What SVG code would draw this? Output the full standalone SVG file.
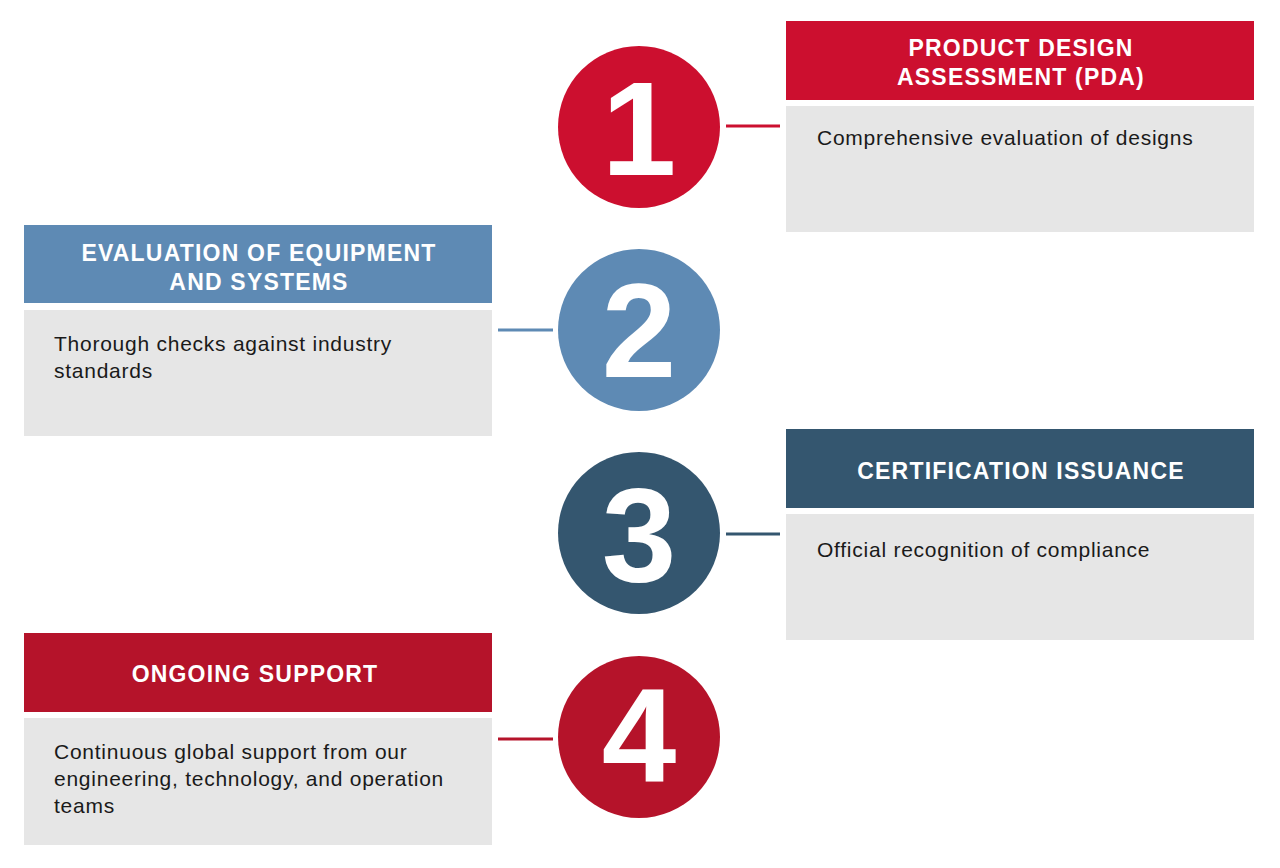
<svg xmlns="http://www.w3.org/2000/svg" width="1280" height="868" viewBox="0 0 1280 868">
<style>
.hd{font-family:"Liberation Sans",Arial,sans-serif;font-weight:bold;font-size:23px;fill:#fff;text-anchor:middle;letter-spacing:1.2px}
.bd{font-family:"Liberation Sans",Arial,sans-serif;font-size:21px;fill:#1a1a1a;letter-spacing:0.75px}
.num{font-family:"Liberation Sans",Arial,sans-serif;font-weight:bold;font-size:134px;fill:#fff;text-anchor:middle}
.body{fill:#e6e6e6}
</style>
<rect width="1280" height="868" fill="#fff"/>
<g id="connectors" stroke-width="3">
<line x1="726" y1="126" x2="780" y2="126" stroke="#cc0f2f"/>
<line x1="498" y1="330" x2="553" y2="330" stroke="#5e8ab4"/>
<line x1="726" y1="534" x2="780" y2="534" stroke="#34566f"/>
<line x1="498" y1="739" x2="553" y2="739" stroke="#b5132a"/>
</g>
<g id="step1">
<circle cx="639" cy="127" r="81" fill="#cc0f2f"/>
<text class="num" x="639" y="175">1</text>
<rect x="786" y="21" width="468" height="79" fill="#cc0f2f"/>
<text class="hd" x="1021" y="56">PRODUCT DESIGN</text>
<text class="hd" x="1021" y="85">ASSESSMENT (PDA)</text>
<rect class="body" x="786" y="106" width="468" height="126"/>
<text class="bd" x="817" y="145">Comprehensive evaluation of designs</text>
</g>
<g id="step2">
<circle cx="639" cy="330" r="81" fill="#5e8ab4"/>
<text class="num" x="639" y="377">2</text>
<rect x="24" y="225" width="468" height="78" fill="#5e8ab4"/>
<text class="hd" x="259" y="261">EVALUATION OF EQUIPMENT</text>
<text class="hd" x="259" y="290">AND SYSTEMS</text>
<rect class="body" x="24" y="310" width="468" height="126"/>
<text class="bd" x="54" y="351">Thorough checks against industry</text>
<text class="bd" x="54" y="378">standards</text>
</g>
<g id="step3">
<circle cx="639" cy="533" r="81" fill="#34566f"/>
<text class="num" x="639" y="582">3</text>
<rect x="786" y="429" width="468" height="79" fill="#34566f"/>
<text class="hd" x="1021" y="479">CERTIFICATION ISSUANCE</text>
<rect class="body" x="786" y="514" width="468" height="126"/>
<text class="bd" x="817" y="557">Official recognition of compliance</text>
</g>
<g id="step4">
<circle cx="639" cy="737" r="81" fill="#b5132a"/>
<text class="num" x="639" y="782">4</text>
<rect x="24" y="633" width="468" height="79" fill="#b5132a"/>
<text class="hd" x="255" y="682">ONGOING SUPPORT</text>
<rect class="body" x="24" y="718" width="468" height="127"/>
<text class="bd" x="54" y="759">Continuous global support from our</text>
<text class="bd" x="54" y="786">engineering, technology, and operation</text>
<text class="bd" x="54" y="813">teams</text>
</g>
</svg>
